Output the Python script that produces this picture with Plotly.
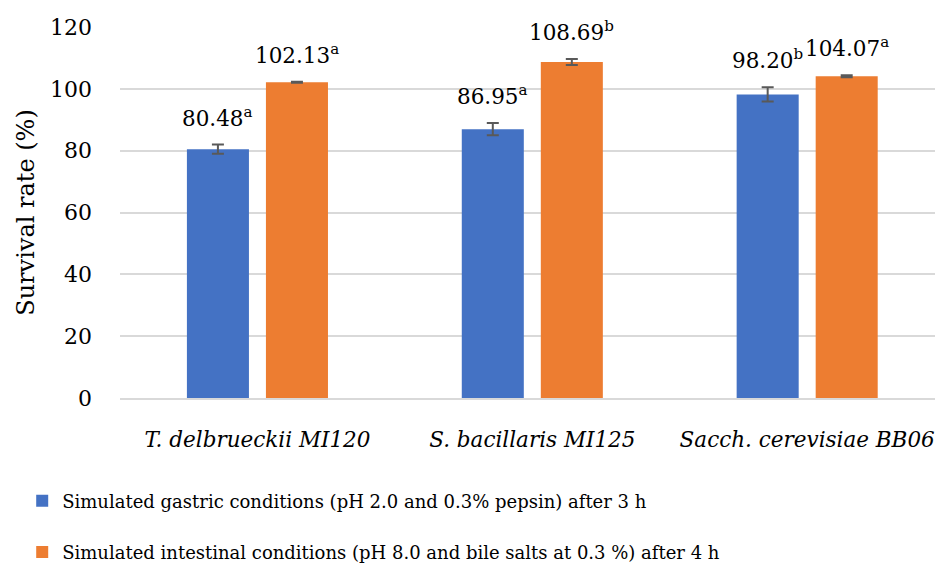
import plotly.graph_objects as go

categories = ["T. delbrueckii MI120", "S. bacillaris MI125", "Sacch. cerevisiae BB06"]
gastric = [80.48, 86.95, 98.20]
gastric_err = [1.5, 2.0, 2.3]
gastric_letters = ["a", "a", "b"]
intestinal = [102.13, 108.69, 104.07]
intestinal_err = [0.2, 1.0, 0.3]
intestinal_letters = ["a", "b", "a"]
series_names = [
    "Simulated gastric conditions (pH 2.0 and 0.3% pepsin) after 3 h",
    "Simulated intestinal conditions (pH 8.0 and bile salts at 0.3 %) after 4 h",
]
y_ticks = [0, 20, 40, 60, 80, 100, 120]

FONT = "DejaVu Serif"
BLUE = "#4472C4"
ORANGE = "#ED7D31"
ERR = "#595959"

cat_idx = list(range(len(categories)))

fig = go.Figure()
for vals, errs, color, name, grp in [
    (gastric, gastric_err, BLUE, series_names[0], "g1"),
    (intestinal, intestinal_err, ORANGE, series_names[1], "g2"),
]:
    fig.add_trace(go.Bar(
        x=cat_idx, y=vals, name=name, legendgroup=grp,
        marker=dict(color=color, line=dict(width=0)),
        error_y=dict(type="data", array=errs, visible=True, color=ERR, thickness=2, width=6),
    ))

annotations = []
for vals, errs, letters, shift in [
    (gastric, gastric_err, gastric_letters, -39.5),
    (intestinal, intestinal_err, intestinal_letters, 39.5),
]:
    for i, (v, e, l) in enumerate(zip(vals, errs, letters)):
        annotations.append(dict(
            x=i, y=v + e, xref="x", yref="y", xshift=shift, yshift=12,
            text=f"{v:.2f}<sup>{l}</sup>", showarrow=False,
            yanchor="bottom", xanchor="center",
            font=dict(family=FONT, size=21.5, color="#000000"),
        ))

fig.update_layout(
    width=935, height=566,
    margin=dict(l=120, r=0, t=27, b=168),
    paper_bgcolor="white", plot_bgcolor="white",
    barmode="group", bargap=0.425, bargroupgap=0.215,
    font=dict(family=FONT, size=20, color="#000000"),
    showlegend=True,
    legend=dict(
        orientation="v", x=-0.12, xanchor="left",
        yref="container", y=0.1475, yanchor="top",
        font=dict(family=FONT, size=18, color="#000000"),
        tracegroupgap=25, itemwidth=30,
    ),
    annotations=annotations,
)
fig.update_xaxes(
    range=[-0.5, 2.465], tickmode="array", tickvals=cat_idx,
    ticktext=[f"<i>{c}</i>" for c in categories],
    showgrid=False, showline=True, linecolor="#d9d9d9", linewidth=2,
    ticks="", ticklabelstandoff=21, tickfont=dict(family=FONT, size=21.5),
    ticklabeloverflow="allow",
    zeroline=False, automargin=False,
)
fig.update_yaxes(
    range=[0, 120], tickvals=y_ticks, showgrid=True, gridcolor="#d9d9d9", gridwidth=2,
    zeroline=False, showline=False, ticks="", ticklabelstandoff=27,
    tickfont=dict(family=FONT, size=22), automargin=False,
    title=dict(text="Survival rate (%)", standoff=8, font=dict(family=FONT, size=24)),
)

fig.write_html("out.html")
